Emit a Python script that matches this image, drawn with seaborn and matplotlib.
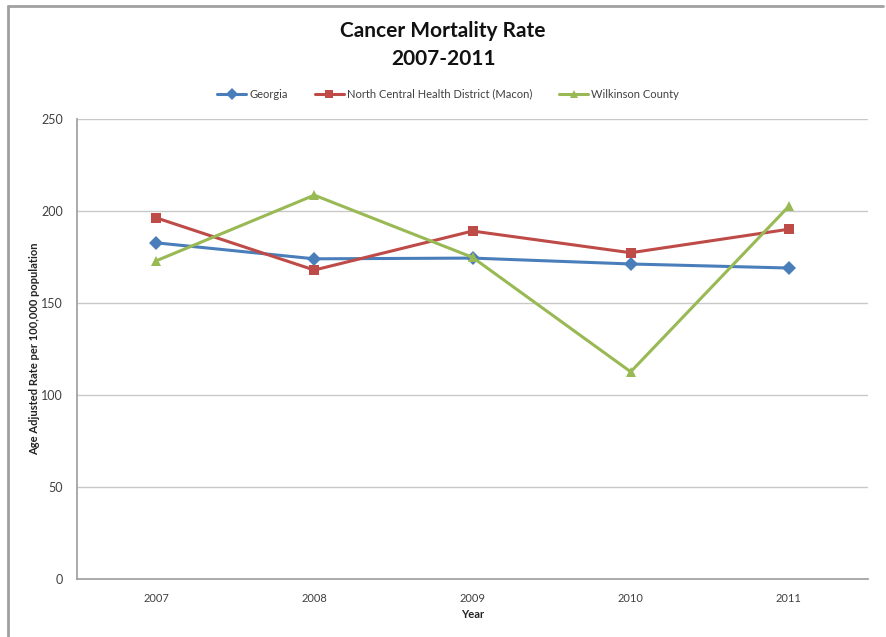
"""Cancer Mortality Rate 2007-2011 line chart"""

import matplotlib
matplotlib.use("Agg")
import matplotlib.pyplot as plt
from matplotlib.lines import Line2D
import pandas as pd
import seaborn as sns

years = [2007, 2008, 2009, 2010, 2011]
georgia = [182.7, 174.0, 174.4, 171.2, 169.0]
north_central = [196.3, 167.9, 189.1, 177.3, 190.1]
wilkinson = [172.9, 208.6, 174.8, 112.6, 202.6]

series_names = ["Georgia", "North Central Health District (Macon)", "Wilkinson County"]
colors = ["#4A7EBB", "#BE4B48", "#98B954"]
markers = ["D", "s", "^"]

df = pd.DataFrame({
    "Year": years * 3,
    "Rate": georgia + north_central + wilkinson,
    "Series": sum([[n] * len(years) for n in series_names], []),
})

sns.set_theme(style="white")
plt.rcParams["font.family"] = ["Lato", "DejaVu Sans"]

fig = plt.figure(figsize=(8.86, 6.37), dpi=100)
ax = fig.add_axes([0.0869, 0.0911, 0.8928, 0.7221])

sns.lineplot(data=df, x="Year", y="Rate", hue="Series", style="Series",
             palette=colors, markers=markers, dashes=False, linewidth=2.2,
             markersize=7, markeredgewidth=0, ax=ax, legend=False)

ax.set_xlim(2006.5, 2011.5)
ax.set_ylim(0, 250)
ax.set_yticks(range(0, 251, 50))
ax.set_xticks(years)
ax.set_xticks([y + 0.5 for y in years[:-1]], minor=True)
ax.tick_params(axis="x", which="major", length=0, labelsize=8, colors="#404040", pad=10)
ax.tick_params(axis="x", which="minor", length=4, color="#a0a0a0", direction="out")
ax.tick_params(axis="y", length=4, labelsize=9, colors="#404040", color="#a0a0a0", pad=6)
ax.grid(axis="y", color="#c8c8c8", linewidth=1)
ax.set_axisbelow(True)
for side in ["top", "right"]:
    ax.spines[side].set_visible(False)
ax.spines["left"].set_color("#a0a0a0")
ax.spines["bottom"].set_color("#a0a0a0")

ax.set_xlabel("Year", fontsize=8, fontweight="bold", color="#222222", labelpad=4)
ax.set_ylabel("Age Adjusted Rate per 100,000 population", fontsize=8,
              fontweight="bold", color="#222222", labelpad=1)

fig.text(0.5, 0.952, "Cancer Mortality Rate", ha="center", va="center",
         fontsize=15, fontweight="bold", color="#111111")
fig.text(0.5, 0.908, "2007-2011", ha="center", va="center",
         fontsize=15, fontweight="bold", color="#111111")

handles = [Line2D([0], [0], color=c, marker=m, linewidth=2.2, markersize=6,
                  markeredgewidth=0) for c, m in zip(colors, markers)]
fig.legend(handles, series_names, loc="center", bbox_to_anchor=(0.506, 0.852),
           ncol=3, frameon=False, fontsize=8, handlelength=2.6,
           columnspacing=2.4, handletextpad=0.3, labelcolor="#404040")

# chart border (left and top)
fig.add_artist(Line2D([0.0095, 0.0095], [0.0, 0.991], color="#a0a0a0",
                      linewidth=2, transform=fig.transFigure))
fig.add_artist(Line2D([0.0095, 0.997], [0.991, 0.991], color="#a0a0a0",
                      linewidth=2, transform=fig.transFigure))

fig.savefig("out.png", dpi=100)
plt.close(fig)
